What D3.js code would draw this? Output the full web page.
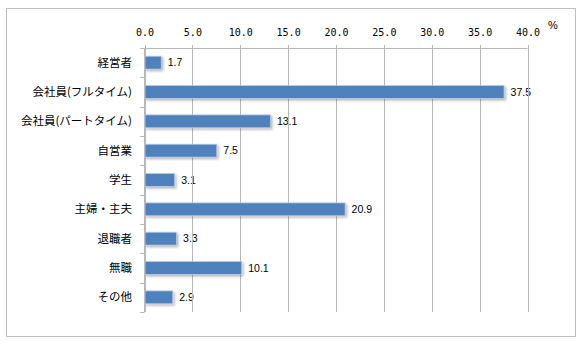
<!DOCTYPE html>
<html><head><meta charset="utf-8">
<script src="https://cdn.jsdelivr.net/npm/d3@7"></script>
<style>
body{margin:0;background:#fff;}
svg{display:block;}
</style></head>
<body>
<svg id="c" width="582" height="345"></svg>
<script>
const categories = ["経営者","会社員(フルタイム)","会社員(パートタイム)","自営業","学生","主婦・主夫","退職者","無職","その他"];
const values = [1.7,37.5,13.1,7.5,3.1,20.9,3.3,10.1,2.9];
const tickValues = [0,5,10,15,20,25,30,35,40];
const unitLabel = "%";

const svg = d3.select("#c");
const defs = svg.append("defs");
const f = defs.append("filter").attr("id","sh").attr("x","-10%").attr("y","-30%").attr("width","130%").attr("height","180%");
f.append("feDropShadow").attr("dx",1.5).attr("dy",1.5).attr("stdDeviation",1).attr("flood-color","#000").attr("flood-opacity",0.3);

// outer border
svg.append("rect").attr("x",6.5).attr("y",8.5).attr("width",569).attr("height",328)
  .attr("fill","#fff").attr("stroke","#bfbfbf").attr("stroke-width",1);

const x = d3.scaleLinear().domain([0,40]).range([144.5,527.5]);
const y = d3.scaleBand().domain(categories).range([48,312]).paddingInner(0.56).paddingOuter(0.28);
const gridColor = "#b8b8b8";

// value labels
svg.append("g").selectAll("text").data(values).join("text")
  .attr("x",(d)=>x(d)+7)
  .attr("y",(d,i)=>y(categories[i])+y.bandwidth()/2)
  .attr("dy","0.35em")
  .attr("font-family","'Liberation Sans', Arial, sans-serif")
  .attr("font-size",10.5).attr("fill","#000")
  .text(d=>d.toFixed(1));

// gridlines (with top ticks)
svg.append("g").selectAll("line").data(tickValues).join("line")
  .attr("x1",d=>Math.round(x(d))+0.5).attr("x2",d=>Math.round(x(d))+0.5)
  .attr("y1",45).attr("y2",312)
  .attr("stroke",gridColor).attr("stroke-width",1);
// top axis line
svg.append("line").attr("x1",x(0)).attr("x2",x(40)).attr("y1",48.5).attr("y2",48.5)
  .attr("stroke",gridColor);

// top axis labels
const xAxis = d3.axisTop(x).tickValues(tickValues).tickFormat(d3.format(".1f")).tickSize(0).tickPadding(0);
const gx = svg.append("g").attr("transform","translate(0,36)").call(xAxis);
gx.select(".domain").remove();
gx.selectAll("text").attr("font-family","'DejaVu Sans Mono', monospace").attr("font-size",10).attr("fill","#000");

// unit
svg.append("text").attr("x",553).attr("y",29).attr("text-anchor","middle")
  .attr("font-family","'Liberation Sans', Arial, sans-serif").attr("font-size",11).text(unitLabel);

// left axis line and ticks
const yAxisG = svg.append("g");
yAxisG.append("line").attr("x1",144.5).attr("x2",144.5).attr("y1",48).attr("y2",312).attr("stroke",gridColor);
const boundaries = d3.range(categories.length+1).map(i=>48 + i*(264/categories.length));
yAxisG.selectAll("line.t").data(boundaries).join("line").attr("class","t")
  .attr("x1",140).attr("x2",144.5)
  .attr("y1",d=>Math.round(d)+0.5).attr("y2",d=>Math.round(d)+0.5)
  .attr("stroke",gridColor);

// category labels
svg.append("g").selectAll("text").data(categories).join("text")
  .attr("x",132).attr("y",d=>y(d)+y.bandwidth()/2).attr("dy","0.36em")
  .attr("text-anchor","end")
  .attr("font-family","'Noto Sans CJK JP', sans-serif").attr("font-size",11.5).attr("fill","#000")
  .text(d=>d);

// bars
svg.append("g").selectAll("rect").data(values).join("rect")
  .attr("x",x(0)+0.5)
  .attr("y",(d,i)=>y(categories[i]))
  .attr("width",d=>x(d)-x(0))
  .attr("height",y.bandwidth())
  .attr("fill","#4f81bd").attr("stroke","#b9cde5").attr("stroke-width",0.8)
  .attr("filter","url(#sh)");
</script>
</body></html>
